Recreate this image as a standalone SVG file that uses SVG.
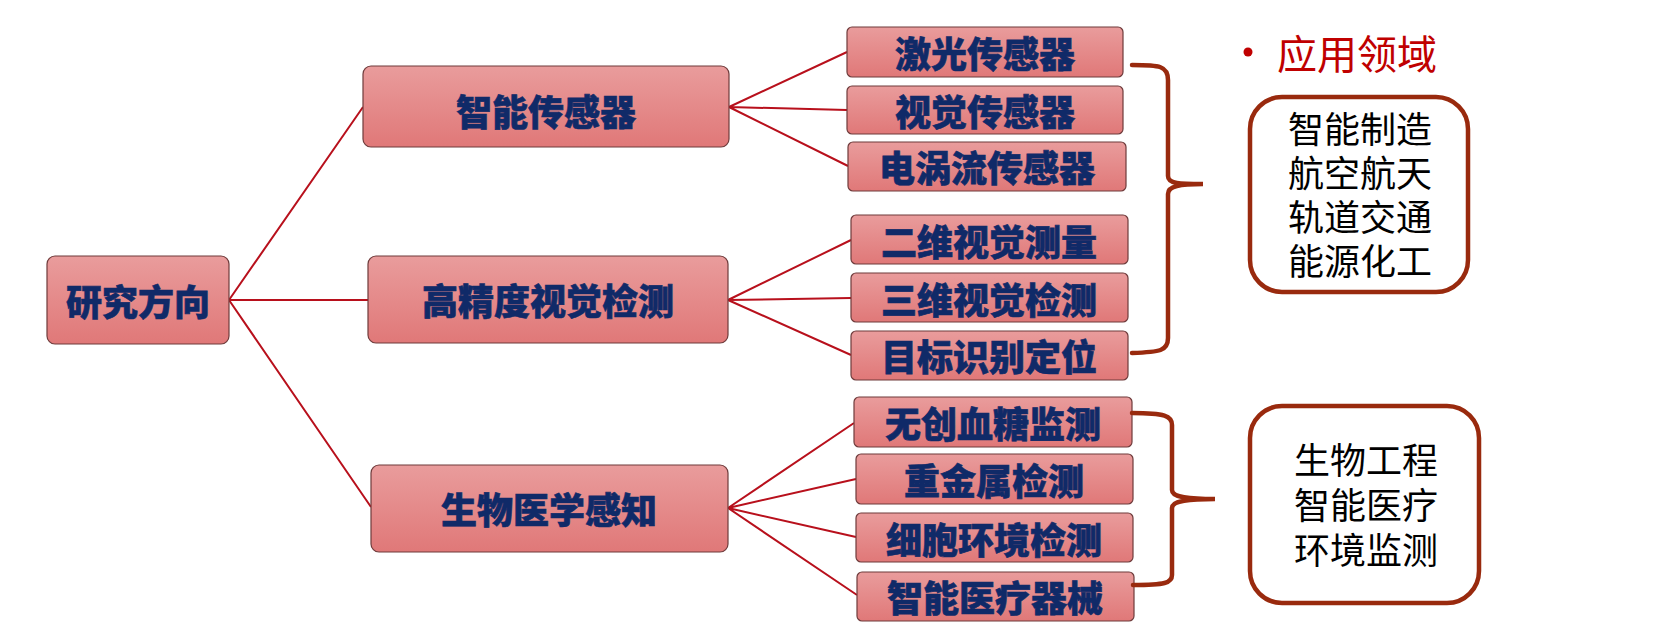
<svg xmlns="http://www.w3.org/2000/svg" width="1661" height="644" viewBox="0 0 1661 644">
<defs>
<linearGradient id="g" x1="0" y1="0" x2="0" y2="1">
<stop offset="0" stop-color="#E99C9C"/>
<stop offset="1" stop-color="#E07878"/>
</linearGradient>
</defs>
<style>
.box{fill:url(#g);stroke:#6E3B3B;stroke-width:1.2}
.t{font-family:"Noto Sans CJK SC",sans-serif;font-weight:900;font-size:36px;fill:#102A68;stroke:#102A68;stroke-width:0.6;text-anchor:middle;dominant-baseline:central}
.c{stroke:#B8101C;stroke-width:2;fill:none}
.br{stroke:#992A0E;stroke-width:4.5;fill:none;stroke-linecap:round}
.pane{fill:#fff;stroke:#992A0E;stroke-width:4.5}
.a{font-family:"Liberation Sans","Noto Sans CJK SC",sans-serif;font-size:36px;fill:#000;text-anchor:middle}
</style>
<rect width="1661" height="644" fill="#fff"/>
<g id="connectors">
<path class="c" d="M229,300 L363,107 M229,300 L368,300 M229,300 L371,507"/>
<path class="c" d="M729,107 L847,52 M729,107 L847,110 M729,107 L848,166"/>
<path class="c" d="M728,300 L851,240 M728,300 L851,298 M728,300 L851,355"/>
<path class="c" d="M728,508 L854,423 M728,508 L856,479 M728,508 L856,537 M728,508 L857,595"/>
</g>
<g id="root"><rect class="box" x="47" y="256" width="182" height="88" rx="8"/><text class="t" x="138" y="300">研究方向</text></g>
<g id="n1"><rect class="box" x="363" y="66" width="366" height="81" rx="8"/><text class="t" x="546" y="110">智能传感器</text></g>
<g id="n2"><rect class="box" x="368" y="256" width="360" height="87" rx="8"/><text class="t" x="548" y="299">高精度视觉检测</text></g>
<g id="n3"><rect class="box" x="371" y="465" width="357" height="87" rx="8"/><text class="t" x="549" y="508">生物医学感知</text></g>
<g id="l1"><rect class="box" x="847" y="27" width="276" height="50" rx="5"/><text class="t" x="985" y="52">激光传感器</text></g>
<g id="l2"><rect class="box" x="847" y="86" width="276" height="48" rx="5"/><text class="t" x="985" y="110">视觉传感器</text></g>
<g id="l3"><rect class="box" x="848" y="142" width="278" height="49" rx="5"/><text class="t" x="987" y="166">电涡流传感器</text></g>
<g id="l4"><rect class="box" x="851" y="215" width="277" height="49" rx="5"/><text class="t" x="989" y="240">二维视觉测量</text></g>
<g id="l5"><rect class="box" x="851" y="273" width="277" height="49" rx="5"/><text class="t" x="989" y="298">三维视觉检测</text></g>
<g id="l6"><rect class="box" x="851" y="331" width="277" height="49" rx="5"/><text class="t" x="989" y="355">目标识别定位</text></g>
<g id="l7"><rect class="box" x="854" y="397" width="278" height="50" rx="5"/><text class="t" x="993" y="422">无创血糖监测</text></g>
<g id="l8"><rect class="box" x="856" y="454" width="277" height="50" rx="5"/><text class="t" x="994" y="479">重金属检测</text></g>
<g id="l9"><rect class="box" x="856" y="513" width="277" height="49" rx="5"/><text class="t" x="994" y="538">细胞环境检测</text></g>
<g id="l10"><rect class="box" x="857" y="572" width="277" height="49" rx="5"/><text class="t" x="995" y="596">智能医疗器械</text></g>
<g id="brackets">
<path class="br" d="M1132,65 C1160,65 1168,66 1168,80 L1168,176 C1168,184 1180,184 1203,184 C1180,184 1168,186 1168,194 L1168,338 C1168,351 1160,352 1132,353"/>
<path class="br" d="M1132,413 C1165,413 1172,416 1172,425 L1172,490 C1172,497 1185,499 1215,499 C1185,499 1172,501 1172,508 L1172,575 C1172,583 1165,585 1133,585"/>
</g>
<g id="title">
<circle cx="1248" cy="52" r="4.5" fill="#C00000"/>
<text x="1277" y="52" font-family="'Noto Sans CJK SC',sans-serif" font-size="40" fill="#C00000" dominant-baseline="central">应用领域</text>
</g>
<g id="app1"><rect class="pane" x="1250" y="97" width="218" height="195" rx="32"/>
<text class="a"><tspan x="1360" y="142.7">智能制造</tspan><tspan x="1360" y="186.7">航空航天</tspan><tspan x="1360" y="230.7">轨道交通</tspan><tspan x="1360" y="274.7">能源化工</tspan></text></g>
<g id="app2"><rect class="pane" x="1250" y="406" width="229" height="197" rx="32"/>
<text class="a"><tspan x="1366" y="473.7">生物工程</tspan><tspan x="1366" y="518.7">智能医疗</tspan><tspan x="1366" y="563.7">环境监测</tspan></text></g>
</svg>
